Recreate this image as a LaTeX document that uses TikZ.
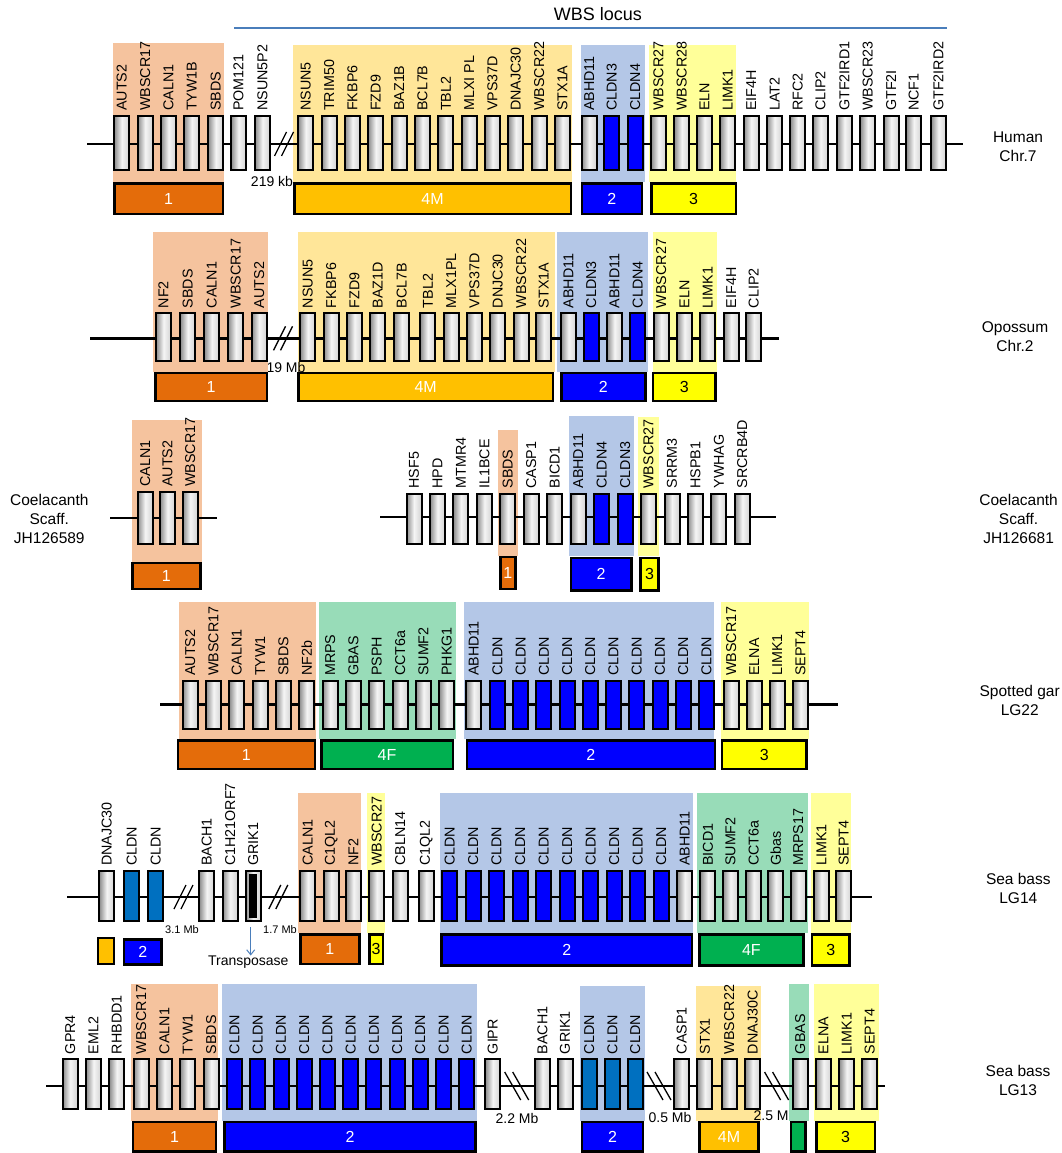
\documentclass[tikz,border=0pt]{standalone}
\usepackage{fontspec}
\setmainfont{Liberation Sans}
\usetikzlibrary{arrows.meta}
\definecolor{bgO}{HTML}{F5C39E}
\definecolor{grO}{HTML}{E46C0A}
\definecolor{bgM}{HTML}{FFE699}
\definecolor{grM}{HTML}{FFC000}
\definecolor{bgB}{HTML}{B4C7E7}
\definecolor{grB}{HTML}{0000FF}
\definecolor{bgY}{HTML}{FFFF99}
\definecolor{grY}{HTML}{FFFF00}
\definecolor{bgG}{HTML}{98DCB8}
\definecolor{grG}{HTML}{00B050}
\definecolor{cldT}{HTML}{0070C0}
\definecolor{wbsC}{HTML}{4A7EBB}
\tikzset{
  gbase/.style={draw=black, line width=2pt, inner sep=0pt, minimum width=15},
  gbox/.style={gbase, left color=gray!90, right color=gray!35, middle color=white!92!gray},
  bbox/.style={gbase, fill=grB},
  tbox/.style={gbase, fill=cldT},
  glabel/.style={rotate=90, anchor=west, inner sep=0pt, font=\fontsize{14.3}{14}\selectfont},
  chrom/.style={line width=2.8pt, black},
  brk/.style={line width=1.3pt, black},
  grp/.style={draw=black, line width=2.5pt, inner sep=0pt, font=\fontsize{16}{16}\selectfont},
  gO/.style={grp, fill=grO, text=white},
  gM/.style={grp, fill=grM, text=white},
  gB/.style={grp, fill=grB, text=white},
  gY/.style={grp, fill=grY, text=black},
  gG/.style={grp, fill=grG, text=white},
  bgbox/.style={inner sep=0pt, outer sep=0pt},
  spec/.style={align=center, font=\fontsize{15.5}{19}\selectfont},
  dist/.style={font=\fontsize{14}{14}\selectfont, inner sep=0pt},
  sdist/.style={font=\fontsize{11}{11}\selectfont, inner sep=0pt},
}
% group box: name, style, x1, y1, x2, y2, text
\newcommand\mkgrp[7]{\node[#2, anchor=north west, minimum width={(#5)-(#3)-2.5}, minimum height={(#6)-(#4)-2.5}] (#1) at (#3,#4) {#7};}
% background: name, colour, x1, y1, x2, y2
\newcommand\mkbg[6]{\node[bgbox, fill=#2, anchor=north west, minimum width={(#5)-(#3)}, minimum height={(#6)-(#4)}] (#1) at (#3,#4) {};}
% break marks
\newcommand\brkf[2]{\draw[brk] (#1-9.5,#2+12) -- (#1+2.5,#2-12); \draw[brk] (#1-2.5,#2+12) -- (#1+9.5,#2-12);}
\newcommand\brkb[2]{\draw[brk] (#1-12,#2-14) -- (#1+4,#2+14); \draw[brk] (#1-4,#2-14) -- (#1+12,#2+14);}
\begin{document}
\begin{tikzpicture}[x=1pt,y=-1pt]
\useasboundingbox (0,0) rectangle (1062,1153);

% ---------------- WBS locus ----------------
\coordinate (wbsA) at (234,28);
\coordinate (wbsB) at (947,28);
\draw[wbsC, line width=2pt] (wbsA) -- (wbsB);
\node[font=\fontsize{18}{18}\selectfont] (wbs) at (598,14) {WBS locus};

% ================= Row 1: Human =================
\node[dist] (d219) at (272,181) {219 kb};
\mkbg{h-bg1}{bgO}{113}{43}{224}{182}
\mkbg{h-bg4}{bgM}{293}{45}{572}{182}
\mkbg{h-bg2}{bgB}{580.7}{45}{645}{182}
\mkbg{h-bg3}{bgY}{649}{45}{736}{182}
\coordinate (hs) at (87,144); \coordinate (he) at (963,144);
\draw[chrom] (hs) -- (he);
\brkf{284}{144}
\def\rt{115}\def\rh{54}
\foreach \x/\t/\s [count=\i] in {113.3/AUTS2/gbox, 136.7/WBSCR17/gbox, 160/CALN1/gbox, 183.3/TYW1B/gbox, 207.3/SBDS/gbox, 230/POM121/gbox, 254/NSUN5P2/gbox, 297.3/NSUN5/gbox, 320.7/TRIM50/gbox, 344/FKBP6/gbox, 367.3/FZD9/gbox, 390.7/BAZ1B/gbox, 414/BCL7B/gbox, 437.3/TBL2/gbox, 460.7/MLXI PL/gbox, 484/VPS37D/gbox, 507.3/DNAJC30/gbox, 530.7/WBSCR22/gbox, 554/STX1A/gbox, 580.7/ABHD11/gbox, 603.3/CLDN3/bbox, 626.7/CLDN4/bbox, 650/WBSCR27/gbox, 673.3/WBSCR28/gbox, 696/ELN/gbox, 719.3/LIMK1/gbox, 742.7/EIF4H/gbox, 766/LAT2/gbox, 789.3/RFC2/gbox, 812/CLIP2/gbox, 836/GTF2IRD1/gbox, 859.3/WBSCR23/gbox, 882.7/GTF2I/gbox, 905.3/NCF1/gbox, 930/GTF2IRD2/gbox} {
  \node[\s, minimum height=\rh, anchor=north west] (ha\i) at (\x,\rt) {};
  \node[glabel] (hal\i) at ([yshift=4pt]ha\i.north) {\t};
}
\mkgrp{h-g1}{gO}{113}{182}{224}{215}{1}
\mkgrp{h-g4}{gM}{293}{182}{572}{215}{4M}
\mkgrp{h-g2}{gB}{580.7}{182}{643}{215}{2}
\mkgrp{h-g3}{gY}{650}{182}{737}{215}{3}
\node[spec] (sp1) at (1018,146.5) {Human\\Chr.7};

% ================= Row 2: Opossum =================
\mkbg{o-bg4}{bgM}{298.3}{231.7}{555}{371.7}
\node[dist] (d19) at (286,367) {19 Mb};
\mkbg{o-bg1}{bgO}{153.3}{231.7}{267.7}{371.7}
\mkbg{o-bg2}{bgB}{556.7}{231.7}{648.3}{371.7}
\mkbg{o-bg3}{bgY}{652.7}{231.7}{717.3}{371.7}
\coordinate (os) at (90,338.3); \coordinate (oe) at (779,338.3);
\draw[chrom] (os) -- (oe);
\brkf{283}{338.3}
\def\rt{312.3}\def\rh{48}
\foreach \x/\t/\s [count=\i] in {155/NF2/gbox, 179.3/SBDS/gbox, 203.3/CALN1/gbox, 227.3/WBSCR17/gbox, 250.7/AUTS2/gbox, 299.3/NSUN5/gbox, 322.7/FKBP6/gbox, 346/FZD9/gbox, 369.3/BAZ1D/gbox, 393.3/BCL7B/gbox, 419.3/TBL2/gbox, 442.7/MLX1PL/gbox, 466/VPS37D/gbox, 489.3/DNJC30/gbox, 512.7/WBSCR22/gbox, 535.3/STX1A/gbox, 560/ABHD11/gbox, 582.7/CLDN3/bbox, 606/ABHD11/gbox, 629.3/CLDN4/bbox, 652.7/WBSCR27/gbox, 676/ELN/gbox, 699.3/LIMK1/gbox, 722.7/EIF4H/gbox, 745.3/CLIP2/gbox} {
  \node[\s, minimum height=\rh, anchor=north west] (ob\i) at (\x,\rt) {};
  \node[glabel] (obl\i) at ([yshift=4pt]ob\i.north) {\t};
}
\mkgrp{o-g1}{gO}{154}{371.7}{268}{402.3}{1}
\mkgrp{o-g4}{gM}{297.3}{371.7}{554}{402.3}{4M}
\mkgrp{o-g2}{gB}{560}{371.7}{646.7}{402.3}{2}
\mkgrp{o-g3}{gY}{651.7}{371.7}{716.7}{402.3}{3}
\node[spec] (sp2) at (1015,337) {Opossum\\Chr.2};

% ================= Row 3: Coelacanth =================
\mkbg{c-bg1}{bgO}{131.7}{420}{201.7}{561.7}
\coordinate (cs) at (110,518); \coordinate (ce) at (217.3,518);
\draw[chrom] (cs) -- (ce);
\def\rt{491}\def\rh{52}
\foreach \x/\t/\s [count=\i] in {136.7/CALN1/gbox, 159/AUTS2/gbox, 181.7/WBSCR17/gbox} {
  \node[\s, minimum height=\rh, anchor=north west] (cc\i) at (\x,\rt) {};
  \node[glabel] (ccl\i) at ([yshift=4pt]cc\i.north) {\t};
}
\mkgrp{c-g1}{gO}{131}{561.7}{201.7}{590}{1}
\node[spec] (sp3) at (49.3,519) {Coelacanth\\Scaff.\\JH126589};

\mkbg{d-bg1}{bgO}{497.8}{430}{517.7}{555.7}
\mkbg{d-bg2}{bgB}{568.8}{416}{634}{555.7}
\mkbg{d-bg3}{bgY}{638.4}{417}{659.3}{555.7}
\coordinate (ds) at (380,517); \coordinate (de) at (776,517);
\draw[chrom] (ds) -- (de);
\def\rt{492.7}\def\rh{50.3}
\foreach \x/\t/\s [count=\i] in {405.5/HSF5/gbox, 429/HPD/gbox, 452.4/MTMR4/gbox, 475.9/IL1BCE/gbox, 499.3/SBDS/gbox, 522.8/CASP1/gbox, 546.2/BICD1/gbox, 569.7/ABHD11/gbox, 593.1/CLDN4/bbox, 616.6/CLDN3/bbox, 640/WBSCR27/gbox, 663.5/SRRM3/gbox, 686.9/HSPB1/gbox, 710.4/YWHAG/gbox, 733.8/SRCRB4D/gbox} {
  \node[\s, minimum height=\rh, anchor=north west] (cd\i) at (\x,\rt) {};
  \node[glabel] (cdl\i) at ([yshift=4pt]cd\i.north) {\t};
}
\mkgrp{d-g1}{gO}{499}{555.7}{516.8}{590}{1}
\mkgrp{d-g2}{gB}{569.6}{556.7}{632.6}{591.7}{2}
\mkgrp{d-g3}{gY}{639.3}{556.7}{659.7}{591.7}{3}
\node[spec] (sp4) at (1018.6,519) {Coelacanth\\Scaff.\\JH126681};

% ================= Row 4: Spotted gar =================
\mkbg{s-bg1}{bgO}{179}{602.3}{316}{739.3}
\mkbg{s-bg4}{bgG}{319.3}{602.3}{456}{739.3}
\mkbg{s-bg2}{bgB}{464}{602.3}{713.6}{739.3}
\mkbg{s-bg3}{bgY}{720.7}{602.3}{809}{739.3}
\coordinate (ss) at (160,704.3); \coordinate (se) at (838.4,704.3);
\draw[chrom] (ss) -- (se);
\def\rt{680}\def\rh{48}
\foreach \x/\t/\s [count=\i] in {181.7/AUTS2/gbox, 205/WBSCR17/gbox, 228.3/CALN1/gbox, 251.7/TYW1/gbox, 275/SBDS/gbox, 298.3/NF2b/gbox, 321.7/MRPS/gbox, 345/GBAS/gbox, 368.3/PSPH/gbox, 391.7/CCT6a/gbox, 415/SUMF2/gbox, 438.3/PHKG1/gbox, 465.3/ABHD11/gbox, 489/CLDN/bbox, 512.2/CLDN/bbox, 535.4/CLDN/bbox, 558.6/CLDN/bbox, 581.8/CLDN/bbox, 605/CLDN/bbox, 628.3/CLDN/bbox, 651.5/CLDN/bbox, 674.8/CLDN/bbox, 698/CLDN/bbox, 722.7/WBSCR17/gbox, 745.6/ELNA/gbox, 768.7/LIMK1/gbox, 792/SEPT4/gbox} {
  \node[\s, minimum height=\rh, anchor=north west] (sg\i) at (\x,\rt) {};
  \node[glabel] (sgl\i) at ([yshift=4pt]sg\i.north) {\t};
}
\mkgrp{s-g1}{gO}{176.7}{739.3}{316}{770}{1}
\mkgrp{s-g4}{gG}{320}{739.3}{454}{770}{4F}
\mkgrp{s-g2}{gB}{465.7}{739.3}{716}{770}{2}
\mkgrp{s-g3}{gY}{720.7}{739.3}{807.8}{770}{3}
\node[spec] (sp5) at (1019.7,700) {Spotted gar\\LG22};

% ================= Row 5: Sea bass LG14 =================
\node[sdist] (d31) at (182,929.5) {3.1 Mb};
\node[sdist] (d17) at (280,929.5) {1.7 Mb};
\mkbg{l-bg1}{bgO}{298.3}{793.3}{360.7}{933.3}
\mkbg{l-bg3a}{bgY}{366.7}{793.3}{385}{933.3}
\mkbg{l-bg2}{bgB}{440}{793.3}{692.6}{933.3}
\mkbg{l-bg4}{bgG}{697.4}{793.3}{807.6}{933.3}
\mkbg{l-bg3b}{bgY}{810.9}{793.3}{851.4}{933.3}
\coordinate (ls) at (67.3,897); \coordinate (le) at (871.6,897);
\draw[chrom] (ls) -- (le);
\brkf{183.5}{897}
\brkf{278.3}{897}
\def\rt{870}\def\rh{49.7}
\foreach \x/\t/\s [count=\i] in {98.3/DNAJC30/gbox, 123.3/CLDN/tbox, 147.3/CLDN/tbox, 198.3/BACH1/gbox, 221.7/C1H21ORF7/gbox, 244.7/GRIK1/gbox, 299.3/CALN1/gbox, 322.7/C1QL2/gbox, 345/NF2/gbox, 368.3/WBSCR27/gbox, 391.7/CBLN14/gbox, 417.7/C1QL2/gbox, 441.3/CLDN/bbox, 464.6/CLDN/bbox, 488/CLDN/bbox, 511.6/CLDN/bbox, 535.2/CLDN/bbox, 558.8/CLDN/bbox, 582.2/CLDN/bbox, 605.6/CLDN/bbox, 629.3/CLDN/bbox, 652.8/CLDN/bbox, 676.3/ABHD11/gbox, 699.4/BICD1/gbox, 721.9/SUMF2/gbox, 745.2/CCT6a/gbox, 767.2/Gbas/gbox, 789.8/MRPS17/gbox, 812.9/LIMK1/gbox, 835.2/SEPT4/gbox} {
  \node[\s, minimum height=\rh, anchor=north west] (lf\i) at (\x,\rt) {};
  \node[glabel] (lfl\i) at ([yshift=4pt]lf\i.north) {\t};
}
\node[fill=black, inner sep=0pt, minimum width=8, minimum height=44] (grikin) at (lf6.center) {};
\node[font=\fontsize{14}{14}\selectfont, inner sep=0pt] (tp) at (248.3,962) {Transposase};
\coordinate (tpA) at (250.7,927);
\draw[wbsC, line width=1pt, -{Straight Barb[length=5pt,width=8pt]}] (tpA) -- (tp.north -| tpA);
\mkgrp{l-gm}{gM}{96.7}{936.7}{115}{965}{}
\mkgrp{l-g2a}{gB}{122.7}{938}{162.7}{965.7}{2}
\mkgrp{l-g1}{gO}{299}{933.3}{360.7}{965}{1}
\mkgrp{l-g3a}{gY}{368.3}{933.3}{384}{965}{3}
\mkgrp{l-g2}{gB}{440}{933.3}{693.4}{966.7}{2}
\mkgrp{l-g4}{gG}{698}{933.3}{804.8}{966.7}{4F}
\mkgrp{l-g3b}{gY}{810.9}{933.3}{850.6}{966.7}{3}
\node[spec] (sp6) at (1018.3,888) {Sea bass\\LG14};

% ================= Row 6: Sea bass LG13 =================
\node[dist] (d22) at (517,1118) {2.2 Mb};
\node[dist] (d05) at (670,1117) {0.5 Mb};
\mkbg{m-bg1}{bgO}{131}{984}{218.3}{1120.7}
\mkbg{m-bg2}{bgB}{221.7}{984}{477.3}{1120.7}
\mkbg{m-bg2b}{bgB}{580}{986}{645}{1120.7}
\mkbg{m-bg4}{bgM}{696.4}{986}{760.6}{1120.7}
\node[dist] (d25) at (775,1115) {2.5 Mb};
\mkbg{m-bg5}{bgG}{789}{984}{809}{1120.7}
\mkbg{m-bg3}{bgY}{814}{984}{879.3}{1120.7}
\coordinate (ms) at (46,1086); \coordinate (me) at (885,1086);
\draw[chrom] (ms) -- (me);
\brkb{516.7}{1086}
\brkb{659}{1086}
\brkb{776.6}{1086}
\def\rt{1058.3}\def\rh{49.7}
\foreach \x/\t/\s [count=\i] in {61.7/GPR4/gbox, 85/EML2/gbox, 108.3/RHBDD1/gbox, 132.7/WBSCR17/gbox, 156/CALN1/gbox, 179.3/TYW1/gbox, 202.7/SBDS/gbox, 226/CLDN/bbox, 249.2/CLDN/bbox, 272.5/CLDN/bbox, 295.7/CLDN/bbox, 318.9/CLDN/bbox, 342.2/CLDN/bbox, 365.4/CLDN/bbox, 388.6/CLDN/bbox, 411.8/CLDN/bbox, 435.1/CLDN/bbox, 458.3/CLDN/bbox, 484.3/GIPR/gbox, 534/BACH1/gbox, 556.5/GRIK1/gbox, 580.7/CLDN/tbox, 603.9/CLDN/tbox, 626.6/CLDN/tbox, 673.3/CASP1/gbox, 696.4/STX1/gbox, 720.7/WBSCR22/gbox, 744.2/DNAJ30C/gbox, 791.6/GBAS/gbox, 815/ELNA/gbox, 838.2/LIMK1/gbox, 861.3/SEPT4/gbox} {
  \node[\s, minimum height=\rh, anchor=north west] (mg\i) at (\x,\rt) {};
  \node[glabel] (mgl\i) at ([yshift=4pt]mg\i.north) {\t};
}
\mkgrp{m-g1}{gO}{131.7}{1120.7}{217.3}{1152.5}{1}
\mkgrp{m-g2}{gB}{223.3}{1120.7}{476.7}{1152.5}{2}
\mkgrp{m-g2b}{gB}{580.7}{1120.7}{644.2}{1152.5}{2}
\mkgrp{m-g4}{gM}{698.3}{1120.7}{759.9}{1152.5}{4M}
\mkgrp{m-g5}{gG}{789.7}{1120.7}{806.5}{1152.5}{}
\mkgrp{m-g3}{gY}{815}{1120.7}{876.3}{1152.5}{3}
\node[spec] (sp7) at (1018,1080) {Sea bass\\LG13};
\end{tikzpicture}
\end{document}
